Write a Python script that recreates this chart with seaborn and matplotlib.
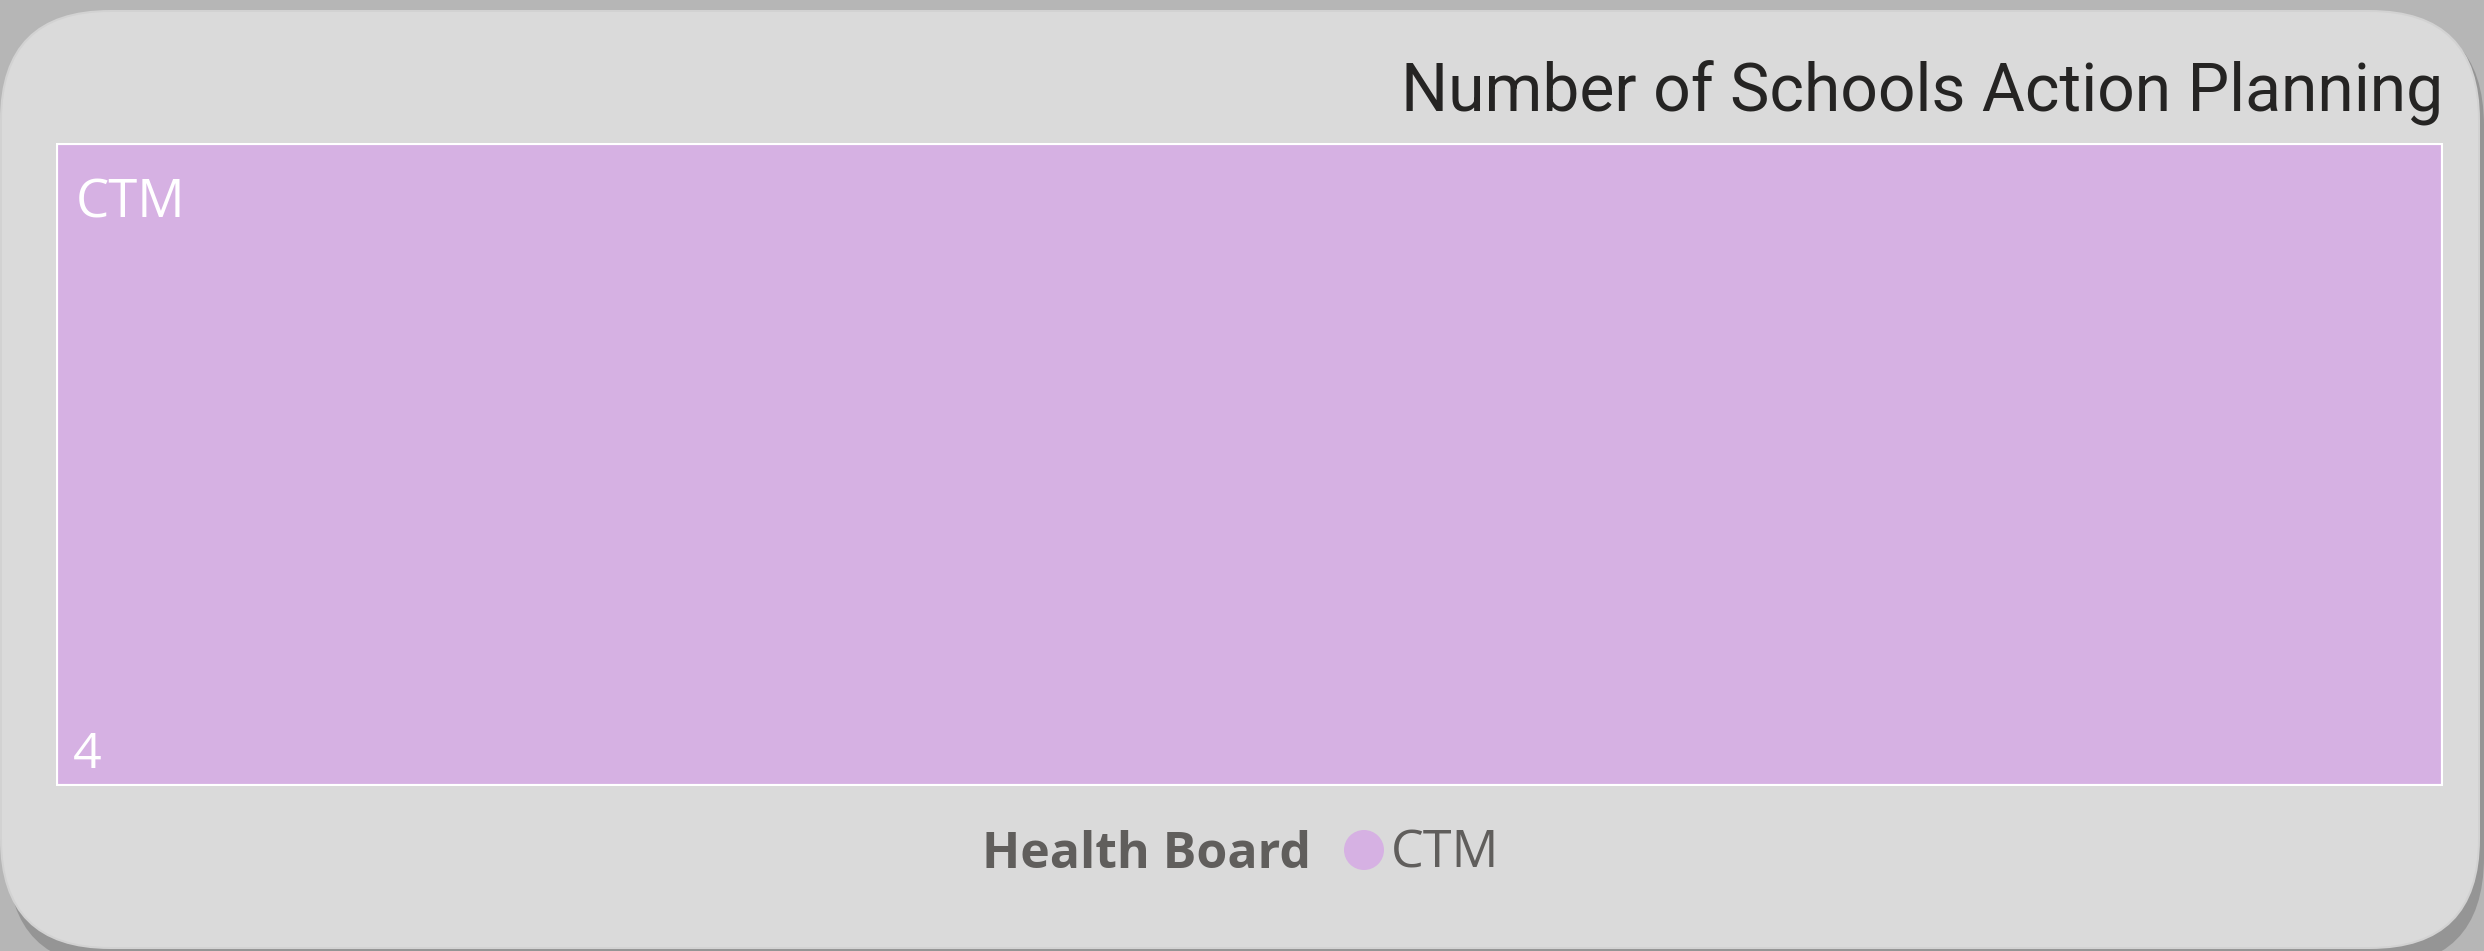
import matplotlib.pyplot as plt
import pandas as pd
import seaborn as sns
from matplotlib.patches import FancyBboxPatch, Circle

# treemap data: one health board
boards = ['CTM']
schools = [4]
board_colors = ['#d6b1e3']

TITLE = 'Number of Schools Action Planning'
LEGEND_TITLE = 'Health Board'

W, H = 2484, 951

df = pd.DataFrame({'board': boards, 'schools': schools})

sns.set_theme(style='white')
plt.rcParams['font.family'] = ['Open Sans', 'DejaVu Sans']

fig = plt.figure(figsize=(W / 100, H / 100), dpi=100, facecolor='#b6b6b6')

# card background in pixel coordinates
bg = fig.add_axes([0, 0, 1, 1], zorder=0)
bg.set_xlim(0, W)
bg.set_ylim(H, 0)
bg.axis('off')
bg.add_patch(FancyBboxPatch((8, 16), W - 8, H, boxstyle='round,pad=0,rounding_size=110',
                            facecolor='#959595', edgecolor='none'))
bg.add_patch(FancyBboxPatch((0, 10), W - 4, H - 12, boxstyle='round,pad=0,rounding_size=110',
                            facecolor='#d2d2d2', edgecolor='none'))
bg.add_patch(FancyBboxPatch((2, 12), W - 8, H - 16, boxstyle='round,pad=0,rounding_size=108',
                            facecolor='#dadada', edgecolor='none'))

# treemap area (single tile fills it)
left, right, top, bottom = 56, 2443, 143, 786
ax = fig.add_axes([left / W, 1 - bottom / H, (right - left) / W, (bottom - top) / H], zorder=2)
sns.barplot(data=df, x='schools', y='board', hue='board', palette=board_colors,
            orient='h', width=1.0, legend=False, ax=ax, saturation=1,
            edgecolor='white', linewidth=3)
ax.set_xlim(0, df['schools'].sum())
ax.set_ylim(0.5, -0.5)
ax.axis('off')

for i, row in df.iterrows():
    ax.text(20 / (right - left), 1 - (217 - top) / (bottom - top), row['board'],
            transform=ax.transAxes, color='white', fontsize=38, va='baseline', ha='left')
    ax.text(17 / (right - left), 1 - (768 - top) / (bottom - top), str(row['schools']),
            transform=ax.transAxes, color='white', fontsize=36, va='baseline', ha='left')

fig.text(2443 / W, 1 - 111 / H, TITLE, fontsize=47.5, color='#252423', ha='right', va='baseline',
         family=['Roboto', 'DejaVu Sans'])

# legend
fig.text(982 / W, 1 - 868 / H, LEGEND_TITLE, fontsize=36, fontweight='bold', color='#605e5c',
         ha='left', va='baseline')
for name, c in zip(boards, board_colors):
    bg.add_patch(Circle((1364, 850), 20, facecolor=c, edgecolor='none'))
    bg.text(1391, 868, name, fontsize=37.5, color='#605e5c', ha='left', va='baseline')

fig.savefig('out.png', dpi=100, facecolor=fig.get_facecolor())
